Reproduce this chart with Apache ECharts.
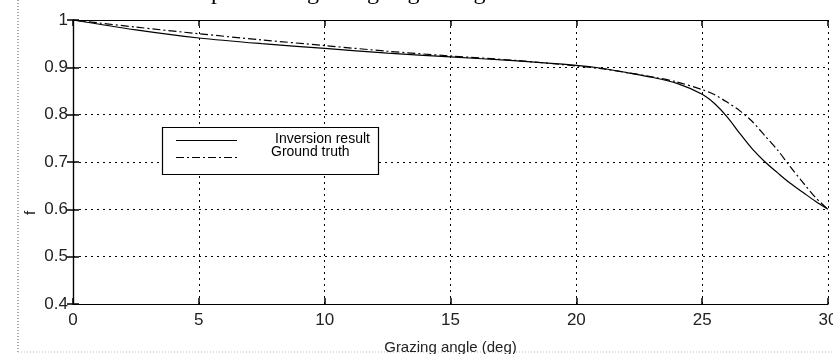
<!DOCTYPE html>
<html>
<head>
<meta charset="utf-8">
<script src="https://cdn.jsdelivr.net/npm/echarts@6/dist/echarts.min.js"></script>
<style>html,body{margin:0;padding:0;background:#fff;}#c{width:833px;height:354px;}</style>
</head>
<body>
<div id="c"></div>
<script>
var angles    = [0, 2.5, 5, 7.5, 10, 12.5, 15, 17.5, 20, 21, 22, 23, 24, 25, 25.5, 26, 26.5, 27, 27.5, 28, 28.5, 29, 29.5, 30];
var inversion = [1.0, 0.979, 0.962, 0.950, 0.940, 0.930, 0.922, 0.914, 0.904, 0.898, 0.889, 0.879, 0.866, 0.843, 0.823, 0.795, 0.760, 0.727, 0.700, 0.677, 0.655, 0.636, 0.617, 0.600];
var truth     = [1.0, 0.985, 0.971, 0.958, 0.946, 0.934, 0.924, 0.915, 0.903, 0.897, 0.889, 0.880, 0.869, 0.853, 0.842, 0.826, 0.808, 0.785, 0.755, 0.725, 0.690, 0.657, 0.625, 0.600];
var xTicks = [0, 5, 10, 15, 20, 25, 30];
var yTicks = ['0.4', '0.5', '0.6', '0.7', '0.8', '0.9', '1'];
var seriesNames = ['Inversion result', 'Ground truth'];
var xName = 'Grazing angle (deg)';
var yName = 'f';

function pairs(xs, ys) { return xs.map(function (x, i) { return [x, ys[i]]; }); }
var gridStyle = { show: true, lineStyle: { color: '#000', width: 1, type: [2, 4] } };
var font = 'Liberation Sans, Arial, sans-serif';

var chart = echarts.init(document.getElementById('c'), null, { renderer: 'canvas' });
chart.setOption({
  animation: false,
  backgroundColor: '#fff',
  grid: { left: 73, right: 5, top: 20, bottom: 50, show: false, containLabel: false, outerBoundsMode: 'none' },
  xAxis: [{
    type: 'value', min: 0, max: 30, interval: 5, position: 'bottom',
    axisLine: { show: true, lineStyle: { color: '#000', width: 1.2 } },
    axisTick: { show: true, inside: true, length: 6, lineStyle: { color: '#000', width: 1.5 } },
    axisLabel: { color: '#222', fontSize: 17, fontFamily: font, margin: 8,
      formatter: function (v) { return xTicks.indexOf(v) >= 0 ? String(v) : ''; } },
    splitLine: gridStyle,
    name: xName, nameLocation: 'middle', nameGap: 36,
    nameTextStyle: { color: '#222', fontSize: 15, fontFamily: font }
  }, {
    type: 'value', min: 0, max: 30, interval: 5, position: 'top',
    axisLine: { show: true, lineStyle: { color: '#000', width: 1.2 } },
    axisTick: { show: true, inside: true, length: 6, lineStyle: { color: '#000', width: 1.5 } },
    axisLabel: { show: false }, splitLine: { show: false }
  }],
  yAxis: [{
    type: 'value', min: 0.4, max: 1, interval: 0.1, position: 'left',
    axisLine: { show: true, lineStyle: { color: '#000', width: 1.2 } },
    axisTick: { show: true, inside: true, length: 6, lineStyle: { color: '#000', width: 1.5 } },
    axisLabel: { color: '#222', fontSize: 17, fontFamily: font, margin: 5,
      formatter: function (v) { var s = String(Math.round(v * 10) / 10); return yTicks.indexOf(s) >= 0 ? s : ''; } },
    splitLine: gridStyle
  }, {
    type: 'value', min: 0.4, max: 1, interval: 0.1, position: 'right',
    axisLine: { show: true, lineStyle: { color: '#000', width: 1.2 } },
    axisTick: { show: true, inside: true, length: 6, lineStyle: { color: '#000', width: 1.5 } },
    axisLabel: { show: false }, splitLine: { show: false }
  }],
  series: [{
    name: seriesNames[0], type: 'line', data: pairs(angles, inversion), smooth: 0.3,
    showSymbol: false, lineStyle: { color: '#000', width: 1.2, type: 'solid' }
  }, {
    name: seriesNames[1], type: 'line', data: pairs(angles, truth), smooth: 0.3,
    showSymbol: false, lineStyle: { color: '#000', width: 1.2, type: [8, 3, 2, 3] }
  }],
  graphic: [
    { type: 'text', x: 305, y: 5, style: { text: 'whole of the precision ', font: '24px "Liberation Serif", serif', fill: '#000', textAlign: 'right', textVerticalAlign: 'bottom' } },
    { type: 'text', x: 307, y: 5, style: { text: 'grazing angle range.', font: '24px "Liberation Serif", serif', fill: '#000', textAlign: 'left', textVerticalAlign: 'bottom' } },
    { type: 'text', x: 31, y: 213, rotation: Math.PI / 2, style: { text: yName, font: '15px "Liberation Sans", sans-serif', fill: '#222', textAlign: 'center', textVerticalAlign: 'middle' } },
    { type: 'line', shape: { x1: 18, y1: 0, x2: 18, y2: 354 }, style: { stroke: '#555', lineWidth: 1, lineDash: [1, 2] } },
    { type: 'line', shape: { x1: 18, y1: 352, x2: 833, y2: 352 }, style: { stroke: '#bbb', lineWidth: 1, lineDash: [1, 2] } },
    { type: 'rect', shape: { x: 162.5, y: 127.5, width: 216, height: 47 }, style: { fill: '#fff', stroke: '#000', lineWidth: 1.2 }, z: 100 },
    { type: 'line', shape: { x1: 176, y1: 140.5, x2: 237, y2: 140.5 }, style: { stroke: '#000', lineWidth: 1.2 }, z: 101 },
    { type: 'line', shape: { x1: 176, y1: 157.5, x2: 237, y2: 157.5 }, style: { stroke: '#000', lineWidth: 1.2, lineDash: [8, 3, 2, 3] }, z: 101 },
    { type: 'text', x: 275, y: 139, style: { text: seriesNames[0], font: '14px "Liberation Sans Narrow", "Liberation Sans", sans-serif', fill: '#000', textVerticalAlign: 'middle' }, z: 101 },
    { type: 'text', x: 271, y: 152, style: { text: seriesNames[1], font: '14px "Liberation Sans Narrow", "Liberation Sans", sans-serif', fill: '#000', textVerticalAlign: 'middle' }, z: 101 }
  ]
});
</script>
</body>
</html>
